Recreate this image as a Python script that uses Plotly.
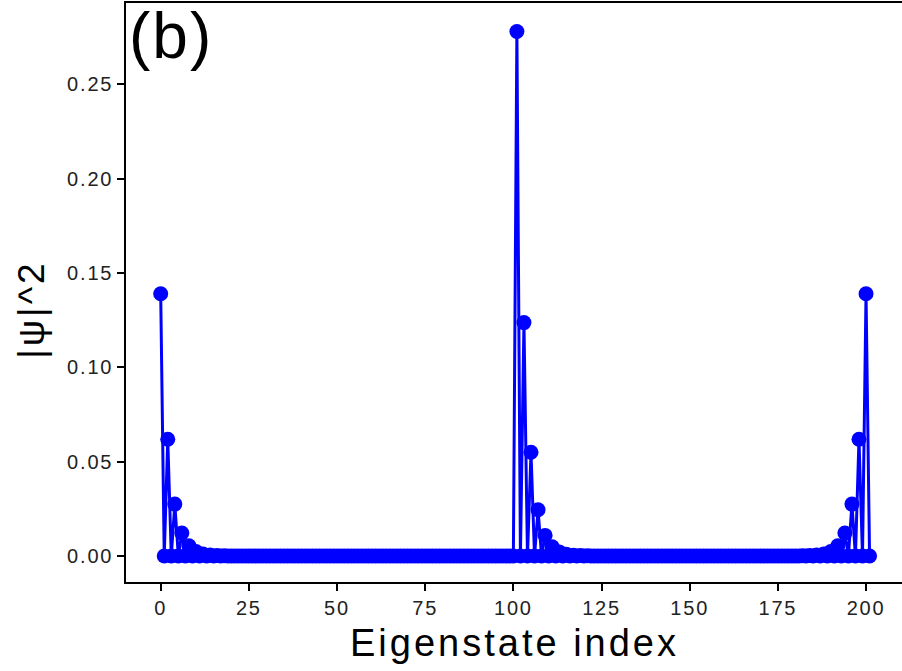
import plotly.graph_objects as go

# Eigenstate indices 0..201
eigenstate_index = list(range(202))

# |psi|^2 values
psi_sq = [
    0.139, 0.0, 0.0619, 0.0, 0.0275, 0.0, 0.0122, 0.0, 0.0054, 0.0,          # 0-9
    0.0024, 0.0, 0.00107, 0.0, 0.00048, 0.0, 0.00021, 0.0, 0.000094, 0.0,    # 10-19
    0.000042, 0.0, 0.000019, 0.0, 0.0000083, 0.0, 0.0, 0.0, 0.0, 0.0,        # 20-29
    0.0, 0.0, 0.0, 0.0, 0.0, 0.0, 0.0, 0.0, 0.0, 0.0,                        # 30-39
    0.0, 0.0, 0.0, 0.0, 0.0, 0.0, 0.0, 0.0, 0.0, 0.0,                        # 40-49
    0.0, 0.0, 0.0, 0.0, 0.0, 0.0, 0.0, 0.0, 0.0, 0.0,                        # 50-59
    0.0, 0.0, 0.0, 0.0, 0.0, 0.0, 0.0, 0.0, 0.0, 0.0,                        # 60-69
    0.0, 0.0, 0.0, 0.0, 0.0, 0.0, 0.0, 0.0, 0.0, 0.0,                        # 70-79
    0.0, 0.0, 0.0, 0.0, 0.0, 0.0, 0.0, 0.0, 0.0, 0.0,                        # 80-89
    0.0, 0.0, 0.0, 0.0, 0.0, 0.0, 0.0, 0.0, 0.0, 0.0,                        # 90-99
    0.0, 0.278, 0.0, 0.1237, 0.0, 0.0550, 0.0, 0.0245, 0.0, 0.0109,          # 100-109
    0.0, 0.00485, 0.0, 0.00216, 0.0, 0.00096, 0.0, 0.00043, 0.0, 0.00019,    # 110-119
    0.0, 0.000085, 0.0, 0.000038, 0.0, 0.000017, 0.0, 0.0, 0.0, 0.0,         # 120-129
    0.0, 0.0, 0.0, 0.0, 0.0, 0.0, 0.0, 0.0, 0.0, 0.0,                        # 130-139
    0.0, 0.0, 0.0, 0.0, 0.0, 0.0, 0.0, 0.0, 0.0, 0.0,                        # 140-149
    0.0, 0.0, 0.0, 0.0, 0.0, 0.0, 0.0, 0.0, 0.0, 0.0,                        # 150-159
    0.0, 0.0, 0.0, 0.0, 0.0, 0.0, 0.0, 0.0, 0.0, 0.0,                        # 160-169
    0.0, 0.0, 0.0, 0.0, 0.0, 0.0, 0.0000083, 0.0, 0.000019, 0.0,             # 170-179
    0.000042, 0.0, 0.000094, 0.0, 0.00021, 0.0, 0.00048, 0.0, 0.00107, 0.0,  # 180-189
    0.0024, 0.0, 0.0054, 0.0, 0.0122, 0.0, 0.0275, 0.0, 0.0619, 0.0,         # 190-199
    0.139, 0.0,                                                              # 200-201
]

x_tick_vals = [0, 25, 50, 75, 100, 125, 150, 175, 200]
x_tick_text = ["0", "25", "50", "75", "100", "125", "150", "175", "200"]
y_tick_vals = [0.0, 0.05, 0.10, 0.15, 0.20, 0.25]
y_tick_text = ["0.00", "0.05", "0.10", "0.15", "0.20", "0.25"]

FONT = "Liberation Sans, Arial, sans-serif"


def spaced(s, px):
    return '<span style="letter-spacing:%gpx">%s</span>' % (px, s)


fig = go.Figure()
fig.add_trace(go.Scatter(
    x=eigenstate_index, y=psi_sq, mode="lines+markers",
    line=dict(color="#0000ff", width=3),
    marker=dict(color="#0000ff", size=15, line=dict(width=0)),
    showlegend=False, cliponaxis=True,
))

fig.update_layout(
    width=902, height=671,
    margin=dict(l=126, r=0, t=3, b=89),
    paper_bgcolor="white", plot_bgcolor="white",
    font=dict(family=FONT, color="black"),
    xaxis=dict(
        range=[-9.84, 210.2], tickvals=x_tick_vals,
        ticktext=[spaced(t, 1.8) for t in x_tick_text], ticks="outside",
        ticklen=7, tickwidth=1.5, tickcolor="black",
        showline=True, linecolor="black", linewidth=1.5, mirror=True,
        showgrid=False, zeroline=False,
        tickfont=dict(size=20, color="#222222"),
    ),
    yaxis=dict(
        range=[-0.0138, 0.2931], tickvals=y_tick_vals,
        ticktext=[spaced(t, 1.8) for t in y_tick_text],
        ticks="outside", ticklen=7, tickwidth=1.5, tickcolor="black",
        showline=True, linecolor="black", linewidth=1.5, mirror=False,
        showgrid=False, zeroline=False,
        tickfont=dict(size=20, color="#222222"),
    ),
    annotations=[
        dict(text=spaced("Eigenstate index", 3), xref="paper", yref="paper",
             x=0.5, y=0, xanchor="center", yanchor="top", yshift=-38,
             showarrow=False, font=dict(size=38, color="black", family=FONT)),
        dict(text=spaced("|ψ|^2", 3), xref="paper", yref="paper",
             x=0, y=0.47, xanchor="center", yanchor="middle", xshift=-94,
             textangle=-90, showarrow=False,
             font=dict(size=37, color="black", family=FONT)),
        dict(text=spaced("(b)", 2), xref="paper", yref="paper",
             x=0, y=1, xanchor="left", yanchor="top", xshift=1, yshift=5,
             showarrow=False, font=dict(size=64, color="black", family=FONT)),
    ],
)

fig.write_html("out.html")
